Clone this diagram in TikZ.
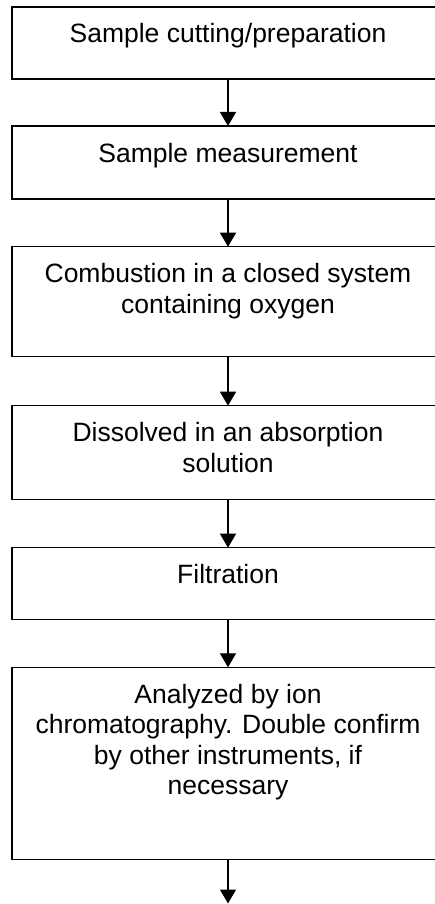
\documentclass[tikz,border=0pt]{standalone}
\usepackage{fontspec}
\setmainfont{Liberation Sans}
\usetikzlibrary{arrows.meta}
\begin{document}
\begin{tikzpicture}[x=1pt,y=-1pt,
  stepbox/.style={draw=black,line width=1.2pt,minimum width=432pt,inner sep=0pt,outer sep=0pt},
  steptext/.style={anchor=base,align=center,inner sep=0pt,font=\fontsize{26.5}{30.5}\selectfont},
  flow/.style={line width=1.2pt,-{Triangle[width=16pt,length=14pt]}}]
\useasboundingbox (0,0) rectangle (435,904);
\node[stepbox,minimum height=72pt] (b1) at (228,43) {};
\node[stepbox,minimum height=73pt] (b2) at (228,162.5) {};
\node[stepbox,minimum height=110pt] (b3) at (228,301.7) {};
\node[stepbox,minimum height=93.6pt] (b4) at (228,452.5) {};
\node[stepbox,minimum height=71.6pt] (b5) at (228,583.5) {};
\node[stepbox,minimum height=192pt] (b6) at (228,763.3) {};
\coordinate (end) at (228,903.5);
% base anchor of a multi-line node is the baseline of its last line
\node[steptext] (t1) at (228,43) {Sample cutting/preparation};
\node[steptext] (t2) at (228,162.3) {Sample measurement};
\node[steptext] (t3) at (228,313) {Combustion in a closed system\\containing oxygen};
\node[steptext] (t4) at (228,472.2) {Dissolved in an absorption\\solution};
\node[steptext] (t5) at (228,583.3) {Filtration};
\node[steptext] (t6) at (228,794.8) {Analyzed by ion\\chromatography. Double confirm\\by other instruments, if\\necessary};
\draw[flow] (b1) -- (b2);
\draw[flow] (b2) -- (b3);
\draw[flow] (b3) -- (b4);
\draw[flow] (b4) -- (b5);
\draw[flow] (b5) -- (b6);
\draw[flow] (b6) -- (end);
\end{tikzpicture}
\end{document}
